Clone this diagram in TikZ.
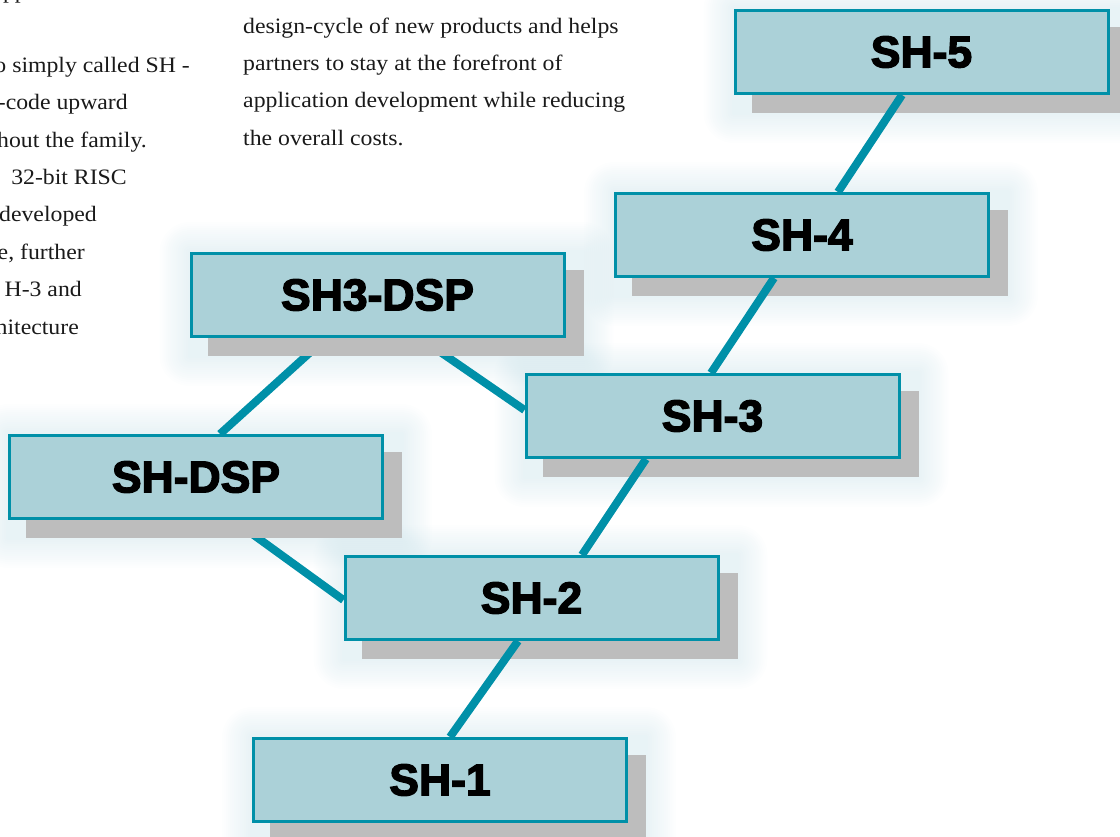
\documentclass[tikz,border=0pt]{standalone}
\usepackage{fontspec}
\usetikzlibrary{calc}
\newfontfamily\boxfont[FakeBold=3]{Liberation Sans Bold}
\newfontfamily\bodyfont[FakeStretch=1.08]{Liberation Serif}

\definecolor{shteal}{HTML}{0090A8}
\definecolor{shfill}{HTML}{ABD1D8}
\definecolor{shshade}{HTML}{BDBDBD}
\definecolor{shglow}{HTML}{A8CFDB}
\definecolor{bodyink}{HTML}{1A1A1A}

\pgfdeclarelayer{glow}
\pgfdeclarelayer{shadeA}
\pgfdeclarelayer{wires}
\pgfdeclarelayer{shadeB}
\pgfsetlayers{glow,shadeA,wires,shadeB,main}

\tikzset{
  chip/.style={draw=shteal, line width=3pt, fill=shfill, rectangle,
    minimum width=373pt, minimum height=83pt, inner sep=0pt,
    font=\boxfont\fontsize{44.5}{50}\selectfont},
  wire/.style={draw=shteal, line width=8pt},
  shade/.style={fill=shshade},
  bodytext/.style={inner sep=0pt, text=bodyink,
    font=\bodyfont\fontsize{22}{26}\selectfont},
  lefttext/.style={bodytext, anchor=base east},
  midtext/.style={bodytext, anchor=base west},
}

\begin{document}
\begin{tikzpicture}[x=1pt, y=-1pt]
\useasboundingbox (0,0) rectangle (1120,836);

% processor boxes
\node[chip] (SH5)    at (921.5,52)  {SH-5};
\node[chip] (SH4)    at (802,235)   {SH-4};
\node[chip] (SH3DSP) at (377.5,295) {SH3-DSP};
\node[chip] (SH3)    at (712.5,416) {SH-3};
\node[chip] (SHDSP)  at (196,477)   {SH-DSP};
\node[chip] (SH2)    at (531.5,598) {SH-2};
\node[chip] (SH1)    at (440,780)   {SH-1};

% soft halo around each box and its shadow
\begin{pgfonlayer}{glow}
  \foreach \b in {SH5,SH4,SH3DSP,SH3,SHDSP,SH2,SH1}{
    \foreach \r in {2,4,...,30}{
      \fill[shglow, fill opacity=0.02, rounded corners=\r pt]
        ([shift={(-\r pt,\r pt)}]\b.north west) rectangle
        ([shift={(18pt+\r pt,-18pt-\r pt)}]\b.south east);
    }
  }
\end{pgfonlayer}

% drop shadows of the main line
\begin{pgfonlayer}{shadeA}
  \foreach \b in {SH5,SH4,SH3,SH2,SH1}{
    \fill[shade] ([shift={(18pt,-18pt)}]\b.north west) rectangle
                 ([shift={(18pt,-18pt)}]\b.south east);
  }
\end{pgfonlayer}

% drop shadows of the DSP branch
\begin{pgfonlayer}{shadeB}
  \foreach \b in {SH3DSP,SHDSP}{
    \fill[shade] ([shift={(18pt,-18pt)}]\b.north west) rectangle
                 ([shift={(18pt,-18pt)}]\b.south east);
  }
\end{pgfonlayer}

% family connections
\begin{pgfonlayer}{wires}
  \draw[wire] ([xshift=10pt]SH1.north)    -- ([xshift=-13.5pt]SH2.south);
  \draw[wire] ([xshift=50.5pt]SH2.north)  -- ([xshift=-66.5pt]SH3.south);
  \draw[wire] ([xshift=-1.5pt]SH3.north)  -- ([xshift=-28pt]SH4.south);
  \draw[wire] ([xshift=36pt]SH4.north)    -- ([xshift=-19.5pt]SH5.south);
  \draw[wire] ([xshift=37pt]SHDSP.south)  -- ([yshift=-2pt]SH2.west);
  \draw[wire] ([xshift=24pt]SHDSP.north)  -- ([xshift=-51.5pt]SH3DSP.south);
  \draw[wire] ([xshift=42.5pt]SH3DSP.south) -- ([yshift=6pt]SH3.west);
\end{pgfonlayer}

% running text, left column
\node[lefttext] (l0) at (27,-2)  {pp};
\node[lefttext] (l1) at (190,72)  {o simply called SH -};
\node[lefttext] (l2) at (128,109) {-code upward};
\node[lefttext] (l3) at (147,147) {hout the family.};
\node[lefttext] (l4) at (127,184) {32-bit RISC};
\node[lefttext] (l5) at (97,221)  {developed};
\node[lefttext] (l6) at (85,259)  {e, further};
\node[lefttext] (l7) at (82,296)  {H-3 and};
\node[lefttext] (l8) at (79,334)  {hitecture};

% running text, middle column
\node[midtext] (m1) at (243,33)  {design-cycle of new products and helps};
\node[midtext] (m2) at (243,70)  {partners to stay at the forefront of};
\node[midtext] (m3) at (243,107) {application development while reducing};
\node[midtext] (m4) at (243,145) {the overall costs.};
\end{tikzpicture}
\end{document}
